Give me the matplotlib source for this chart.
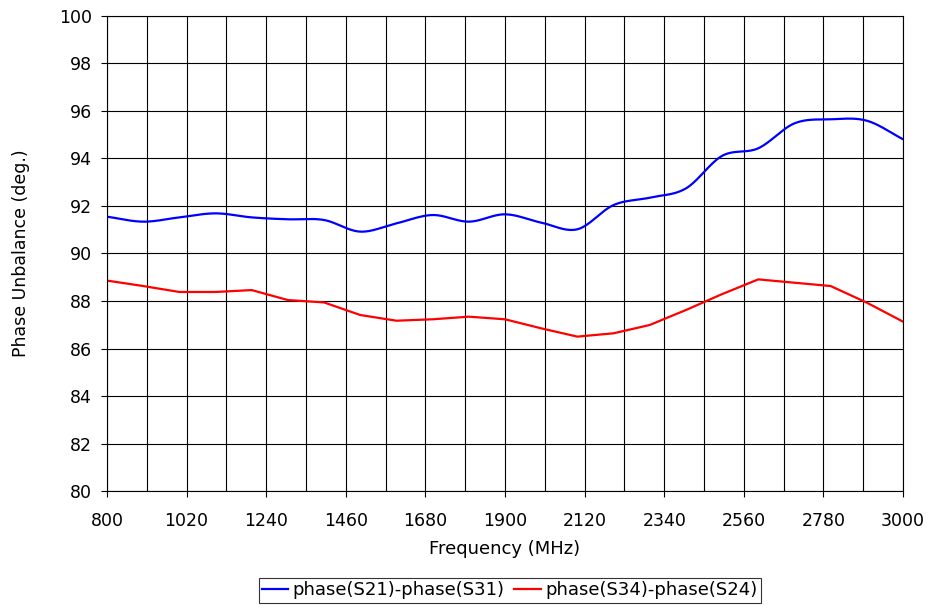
import numpy as np
import matplotlib
matplotlib.use('Agg')
import matplotlib.pyplot as plt

# ==================== 数据
freq = [800, 900, 1000, 1100, 1200, 1300, 1400, 1500, 1600, 1700, 1800, 1900,
        2000, 2100, 2200, 2300, 2400, 2500, 2600, 2700, 2800, 2900, 3000]
s21_s31 = [91.55, 91.34, 91.52, 91.69, 91.52, 91.44, 91.41, 90.92, 91.27, 91.62, 91.34, 91.65,
           91.30, 91.02, 92.04, 92.35, 92.74, 94.11, 94.43, 95.48, 95.65, 95.59, 94.81]
s34_s24 = [88.86, 88.63, 88.38, 88.38, 88.46, 88.04, 87.94, 87.41, 87.17, 87.23, 87.34, 87.23,
           86.85, 86.50, 86.64, 86.99, 87.62, 88.29, 88.91, 88.77, 88.63, 87.93, 87.13]
x_ticks = [800, 1020, 1240, 1460, 1680, 1900, 2120, 2340, 2560, 2780, 3000]
y_ticks = list(range(80, 101, 2))
labels = ['phase(S21)-phase(S31)', 'phase(S34)-phase(S24)']


def smooth(x, y, n=20):
    """Excel 风格平滑线 (Catmull-Rom)"""
    x = np.asarray(x, float)
    y = np.asarray(y, float)
    px = np.concatenate([[2 * x[0] - x[1]], x, [2 * x[-1] - x[-2]]])
    py = np.concatenate([[2 * y[0] - y[1]], y, [2 * y[-1] - y[-2]]])
    t = np.linspace(0, 1, n, endpoint=False)
    xs, ys = [], []
    for i in range(1, len(px) - 2):
        for p, out in ((px, xs), (py, ys)):
            p0, p1, p2, p3 = p[i - 1], p[i], p[i + 1], p[i + 2]
            out.extend(0.5 * (2 * p1 + (-p0 + p2) * t + (2 * p0 - 5 * p1 + 4 * p2 - p3) * t ** 2
                              + (-p0 + 3 * p1 - 3 * p2 + p3) * t ** 3))
    xs.append(x[-1])
    ys.append(y[-1])
    return np.array(xs), np.array(ys)


plt.rcParams['font.family'] = ['DejaVu Sans']
fig = plt.figure(figsize=(9.3, 6.05), dpi=100)
ax = fig.add_axes([0.115, 0.1884, 0.856, 0.7852])

sx, sy = smooth(freq, s21_s31)
ax.plot(sx, sy, color='#0000ff', lw=1.6, label=labels[0])
ax.plot(freq, s34_s24, color='#ff0000', lw=1.6, label=labels[1])

ax.set_xlim(800, 3000)
ax.set_ylim(80, 100)
ax.set_xticks(x_ticks)
ax.set_xticks(np.arange(800, 3001, 110), minor=True)
ax.set_yticks(y_ticks)
ax.grid(True, which='both', color='black', lw=0.8)
ax.tick_params(axis='both', which='major', direction='out', length=4.5, width=0.8, labelsize=12.5, colors='black')
ax.tick_params(axis='x', which='major', pad=10.5)
ax.tick_params(axis='y', which='major', pad=6.5)
ax.tick_params(axis='x', which='minor', length=0)
for sp in ax.spines.values():
    sp.set_color('black')
    sp.set_linewidth(0.8)

ax.set_xlabel('Frequency (MHz)', fontsize=13)
ax.xaxis.set_label_coords(0.5, -0.103)
ax.set_ylabel('Phase Unbalance (deg.)', fontsize=12.5)
ax.yaxis.set_label_coords(-0.097, 0.5)

leg = ax.legend(loc='upper center', bbox_to_anchor=(0.548, 0.0446), bbox_transform=fig.transFigure,
                ncol=2, frameon=True, fancybox=False, fontsize=13, handlelength=1.45,
                handletextpad=0.25, columnspacing=0.55, borderpad=0.18, borderaxespad=0)
leg.get_frame().set_edgecolor('black')
leg.get_frame().set_linewidth(0.8)

fig.savefig('out.png', dpi=100, facecolor='white')
